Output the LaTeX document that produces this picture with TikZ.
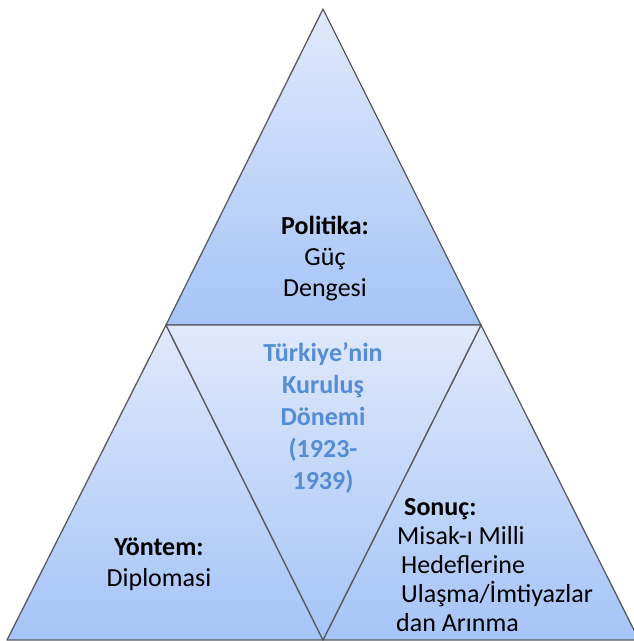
\documentclass[tikz,border=0pt]{standalone}
\usepackage{fontspec}
\setmainfont{Carlito}
\definecolor{tritop}{RGB}{224,233,251}
\definecolor{tribot}{RGB}{165,196,247}
\definecolor{edge}{RGB}{90,90,95}
\definecolor{midtext}{RGB}{84,141,212}
\tikzset{
  tri/.style={draw=edge, line width=1.3pt, line join=round, top color=tritop, bottom color=tribot},
  lbl/.style={inner sep=0pt, font=\fontsize{26}{31}\selectfont, text=black},
}
\begin{document}
\begin{tikzpicture}[x=1pt,y=-1pt]
\useasboundingbox (0,0) rectangle (633,641);
\coordinate (A) at (323,9);
\coordinate (B) at (166,325);
\coordinate (C) at (481,325);
\coordinate (D) at (7,640);
\coordinate (E) at (323,640);
\coordinate (F) at (639,640);
\path[tri] (A) -- (B) -- (C) -- cycle;
\path[tri] (B) -- (D) -- (E) -- cycle;
\path[tri] (C) -- (E) -- (F) -- cycle;
\path[tri] (B) -- (C) -- (E) -- cycle;
\node[lbl, align=center] (politika) at (325,259) {\textbf{Politika:}\\Güç\\Dengesi};
\node[lbl, align=center, text=midtext, font=\fontsize{26}{32}\selectfont\bfseries] (merkez) at (323,418) {Türkiye’nin\\Kuruluş\\Dönemi\\(1923-\\1939)};
\node[lbl, align=center] (yontem) at (159,564) {\textbf{Yöntem:}\\Diplomasi};
\node[lbl, align=left, anchor=west, font=\fontsize{26}{29}\selectfont] (sonuc) at (396,565) {\hspace*{8pt}\textbf{Sonuç:}\\\hspace*{1pt}Misak-ı Milli\\\hspace*{5pt}Hedeflerine\\\hspace*{5pt}Ulaşma/İmtiyazlar\\dan Arınma};
\end{tikzpicture}
\end{document}
